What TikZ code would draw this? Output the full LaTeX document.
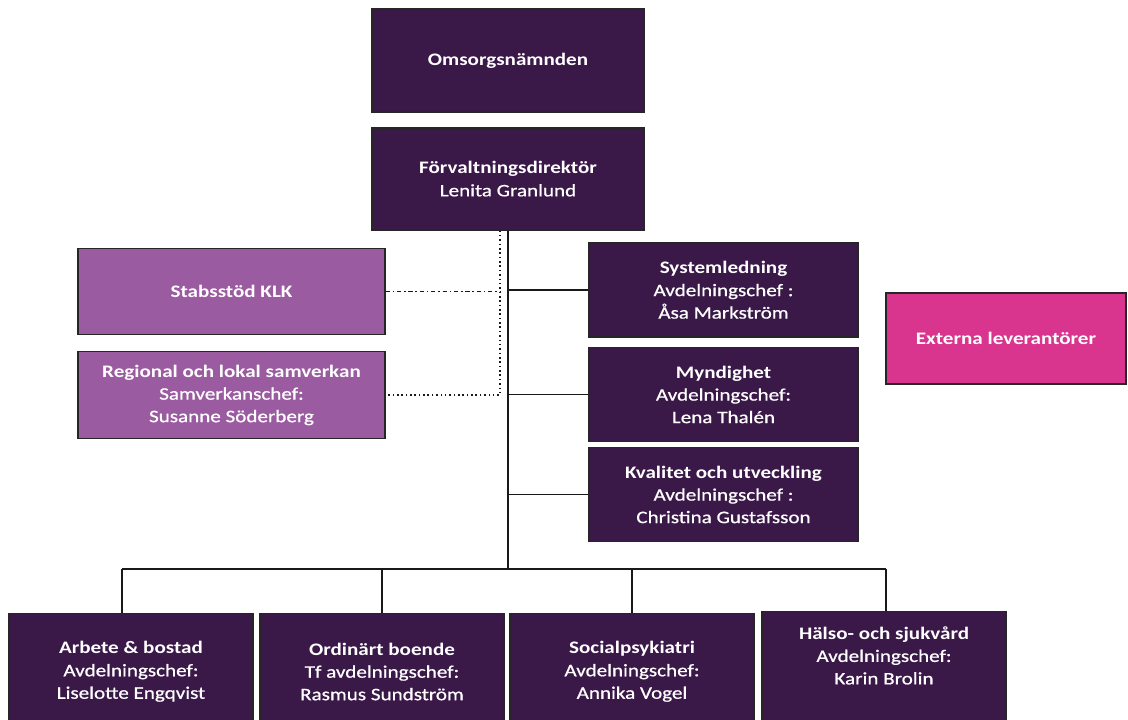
\documentclass[tikz,border=0pt]{standalone}
\usepackage{fontspec}
\setmainfont{Carlito}[FakeStretch=1.2, UprightFeatures={FakeBold=0.7}]
\definecolor{darkplum}{RGB}{58,24,72}
\definecolor{lightplum}{RGB}{155,91,160}
\definecolor{pinkbox}{RGB}{217,52,142}
\begin{document}
\begin{tikzpicture}[
    x=0.025cm, y=-0.025cm,
    % Define styles
    unit/.style={
        rectangle,
        draw=black!85,
        line width=0.8pt,
        fill=darkplum,
        text=white,
        align=center,
        font=\fontsize{12.5}{16}\selectfont
    },
    topunit/.style={
        unit,
        minimum width=6.8cm,
        minimum height=2.55cm
    },
    staff/.style={
        unit,
        fill=lightplum,
        minimum width=7.675cm,
        minimum height=2.16cm
    },
    dept/.style={
        unit,
        minimum width=6.725cm,
        minimum height=2.35cm
    },
    division/.style={
        unit,
        minimum width=6.1cm,
        minimum height=2.9cm,
        anchor=north
    },
    link/.style={
        line width=1.1pt,
        black!90
    }
]

\useasboundingbox (0,0) rectangle (1128,719);

% Board and director
\node[topunit, minimum height=2.575cm] (omsorg) at (508,60.5) {\bfseries Omsorgsnämnden};
\node[topunit] (direktor) at (508,179) {\bfseries Förvaltningsdirektör\\Lenita Granlund};

% Staff units (left side)
\node[staff] (stab) at (231.5,291.5) {\bfseries Stabsstöd KLK};
\node[staff] (samverkan) at (231.5,395) {\bfseries Regional och lokal samverkan\\Samverkanschef:\\Susanne Söderberg};

% Departments (right side)
\node[dept] (system) at (723.5,290) {\bfseries Systemledning\\Avdelningschef :\\Åsa Markström};
\node[dept] (myndighet) at (723.5,394.5) {\bfseries Myndighet\\Avdelningschef:\\Lena Thalén};
\node[dept] (kvalitet) at (723.5,494.5) {\bfseries Kvalitet och utveckling\\Avdelningschef :\\Christina Gustafsson};

% External suppliers
\node[unit, fill=pinkbox, minimum width=6cm, minimum height=2.275cm] (externa) at (1006,338.5) {\bfseries Externa leverantörer};

% Divisions (bottom row)
\node[division] (arbete) at (131,613) {\bfseries Arbete \& bostad\\Avdelningschef:\\Liselotte Engqvist};
\node[division] (ordinart) at (382,613) {\bfseries Ordinärt boende\\Tf avdelningschef:\\Rasmus Sundström};
\node[division] (socialpsyk) at (632,613) {\bfseries Socialpsykiatri\\Avdelningschef:\\Annika Vogel};
\node[division] (halso) at (884,611) {\bfseries Hälso- och sjukvård\\Avdelningschef:\\Karin Brolin\\[4pt]};

% Bus to the divisions
\coordinate (busL) at (122,569);
\coordinate (busR) at (886,569);

% Main line from the director
\draw[link] (direktor.south) -- (direktor.south |- busL);
\draw[link] (busL) -- (busR);

% Drops to the divisions
\draw[link] (busL) -- (busL |- arbete.north);
\draw[link] (ordinart.north |- busL) -- (ordinart.north);
\draw[link] (socialpsyk.north |- busL) -- (socialpsyk.north);
\draw[link] (busR) -- (busR |- halso.north);

% Branches to the departments
\draw[link] (direktor.south |- system.west) -- (system.west);
\draw[link] (direktor.south |- myndighet.west) -- (myndighet.west);
\draw[link] (direktor.south |- kvalitet.west) -- (kvalitet.west);

% Staff lines (not solid)
\coordinate (staffline) at ([xshift=-0.2cm]direktor.south);
\draw[link, dash dot] (stab.east) -- (staffline |- stab.east);
\draw[link, dotted] (staffline) -- (staffline |- samverkan.east) -- (samverkan.east);
\end{tikzpicture}
\end{document}
